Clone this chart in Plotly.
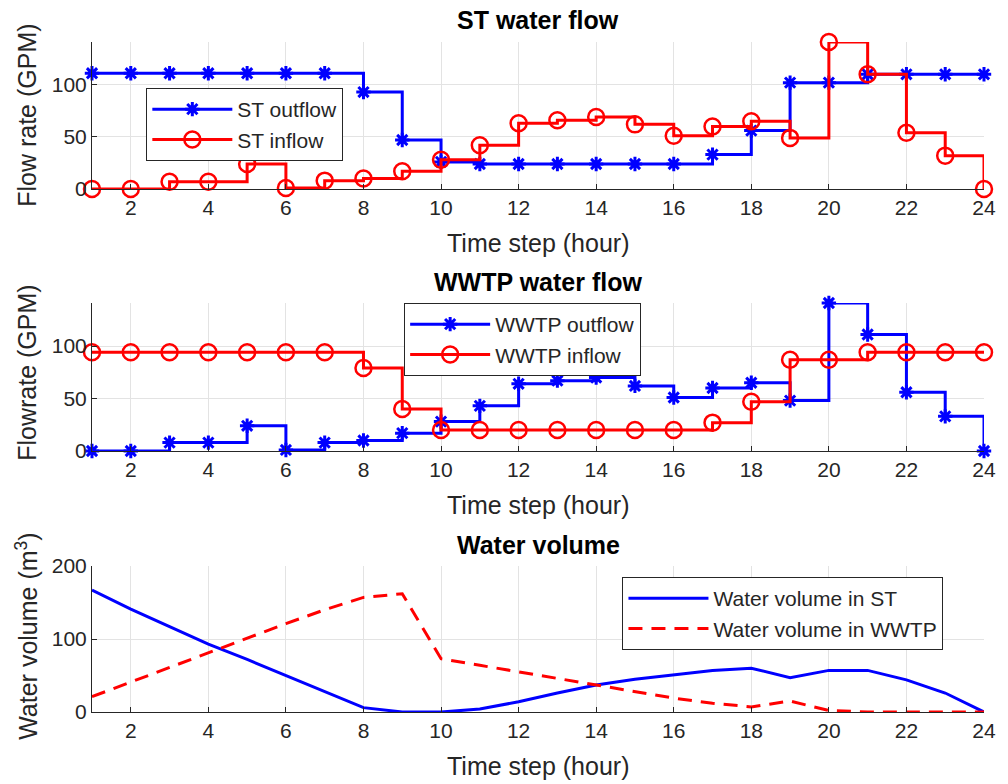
import plotly.graph_objects as go

hours = list(range(1, 25))
st_outflow = [111, 111, 111, 111, 111, 111, 111, 93, 47, 26, 24, 24, 24, 24, 24, 24, 33, 56, 102, 102, 110, 110, 110, 110]
st_inflow = [0, 0, 7, 7, 24, 1, 8, 10, 17, 28, 42, 63, 66, 69, 62, 51, 60, 65, 49, 141, 110, 54, 32, 0]
wwtp_outflow = [0, 0, 8, 8, 24, 1, 8, 10, 17, 28, 43, 64, 67, 70, 62, 51, 60, 65, 48, 141, 111, 56, 33, 0]
wwtp_inflow = [94, 94, 94, 94, 94, 94, 94, 79, 40, 20, 20, 20, 20, 20, 20, 20, 27, 47, 87, 87, 94, 94, 94, 94]
st_volume = [167, 141, 117, 93, 72, 50, 27, 6, 0, 0, 4, 14, 26, 37, 45, 51, 57, 60, 47, 57, 57, 44, 26, 0]
wwtp_volume = [21, 41, 61, 82, 102, 121, 140, 157, 162, 73, 64, 55, 46, 37, 27, 19, 12, 7, 15, 2, 0, 0, 0, 0]

x_ticks = [2, 4, 6, 8, 10, 12, 14, 16, 18, 20, 22, 24]
flow_ticks = [0, 50, 100]
vol_ticks = [0, 100, 200]

BLUE = "rgb(0,0,255)"
RED = "rgb(255,0,0)"
FONT = "Liberation Sans, Arial, sans-serif"
TXT = "#262626"

W, H = 1008, 784
L, R, T, B = 92, 13, 42, 72
PH = H - T - B


def py(p):
    return (H - B - p) / PH


def px(p):
    return (p - L) / (W - L - R)


fig = go.Figure()

star = dict(symbol="asterisk-open", size=12, color=BLUE, line=dict(color=BLUE, width=3))
circ = dict(symbol="circle-open", size=16, color=RED, line=dict(color=RED, width=2.5))

fig.add_trace(go.Scatter(x=hours, y=st_outflow, mode="lines+markers", name="ST outflow",
                         line=dict(color=BLUE, width=3, shape="hv"), marker=star,
                         cliponaxis=False, xaxis="x", yaxis="y", legend="legend"))
fig.add_trace(go.Scatter(x=hours, y=st_inflow, mode="lines+markers", name="ST inflow",
                         line=dict(color=RED, width=3, shape="hv"), marker=circ,
                         cliponaxis=False, xaxis="x", yaxis="y", legend="legend"))
fig.add_trace(go.Scatter(x=hours, y=wwtp_outflow, mode="lines+markers", name="WWTP outflow",
                         line=dict(color=BLUE, width=3, shape="hv"), marker=star,
                         cliponaxis=False, xaxis="x2", yaxis="y2", legend="legend2"))
fig.add_trace(go.Scatter(x=hours, y=wwtp_inflow, mode="lines+markers", name="WWTP inflow",
                         line=dict(color=RED, width=3, shape="hv"), marker=circ,
                         cliponaxis=False, xaxis="x2", yaxis="y2", legend="legend2"))
fig.add_trace(go.Scatter(x=hours, y=st_volume, mode="lines", name="Water volume in ST",
                         line=dict(color=BLUE, width=3), cliponaxis=False,
                         xaxis="x3", yaxis="y3", legend="legend3"))
fig.add_trace(go.Scatter(x=hours, y=wwtp_volume, mode="lines", name="Water volume in WWTP",
                         line=dict(color=RED, width=3, dash="14px,9px"), cliponaxis=False,
                         xaxis="x3", yaxis="y3", legend="legend3"))

xcommon = dict(range=[1, 24], tickvals=x_ticks, showgrid=True, gridcolor="#e3e3e3", gridwidth=1,
               showline=True, linecolor=TXT, linewidth=1, ticks="inside", ticklen=5,
               tickcolor=TXT, zeroline=False, tickfont=dict(size=21, color=TXT, family=FONT),
               domain=[0, 1])
ycommon = dict(showgrid=True, gridcolor="#e3e3e3", gridwidth=1, showline=True, linecolor=TXT,
               linewidth=1, ticks="inside", ticklen=5, tickcolor=TXT, zeroline=False,
               tickfont=dict(size=21, color=TXT, family=FONT))

legcommon = dict(bgcolor="white", bordercolor="#262626", borderwidth=1,
                 font=dict(size=21, color=TXT, family=FONT), xanchor="left", yanchor="top",
                 itemwidth=80, tracegroupgap=0)

fig.update_layout(
    width=W, height=H,
    paper_bgcolor="white", plot_bgcolor="white",
    margin=dict(l=L, r=R, t=T, b=B, pad=0),
    font=dict(family=FONT, color=TXT),
    xaxis=dict(**xcommon, anchor="y"),
    yaxis=dict(**ycommon, range=[0, 141], tickvals=flow_ticks, domain=[py(189), py(42)], anchor="x"),
    xaxis2=dict(**xcommon, anchor="y2"),
    yaxis2=dict(**ycommon, range=[0, 141], tickvals=flow_ticks, domain=[py(451), py(303)], anchor="x2"),
    xaxis3=dict(**xcommon, anchor="y3"),
    yaxis3=dict(**ycommon, range=[0, 200], tickvals=vol_ticks, domain=[0, py(566)], anchor="x3"),
    legend=dict(**legcommon, x=px(147), y=py(88)),
    legend2=dict(**legcommon, x=px(408), y=py(303)),
    legend3=dict(**legcommon, x=px(629), y=py(577)),
    showlegend=True,
)

ann = []
for text, yc in [("<b>ST water flow</b>", 20), ("<b>WWTP water flow</b>", 282), ("<b>Water volume</b>", 545)]:
    ann.append(dict(text=text, x=0.5, y=py(yc), xref="paper", yref="paper", showarrow=False,
                    xanchor="center", yanchor="middle", font=dict(size=25, color="black", family=FONT)))
for yc in [243, 505, 766]:
    ann.append(dict(text="Time step (hour)", x=0.5, y=py(yc), xref="paper", yref="paper", showarrow=False,
                    xanchor="center", yanchor="middle", font=dict(size=25, color=TXT, family=FONT)))
for text, yc in [("Flow rate (GPM)", 115), ("Flowrate (GPM)", 373), ("Water volume (m<sup>3</sup>)", 636)]:
    ann.append(dict(text=text, x=px(26), y=py(yc), xref="paper", yref="paper", showarrow=False,
                    textangle=-90, xanchor="center", yanchor="middle",
                    font=dict(size=25, color=TXT, family=FONT)))
fig.update_layout(annotations=ann)

fig.write_html("out.html", config={"displayModeBar": False},
               post_script="document.body.style.margin='0';document.body.style.padding='0';")
